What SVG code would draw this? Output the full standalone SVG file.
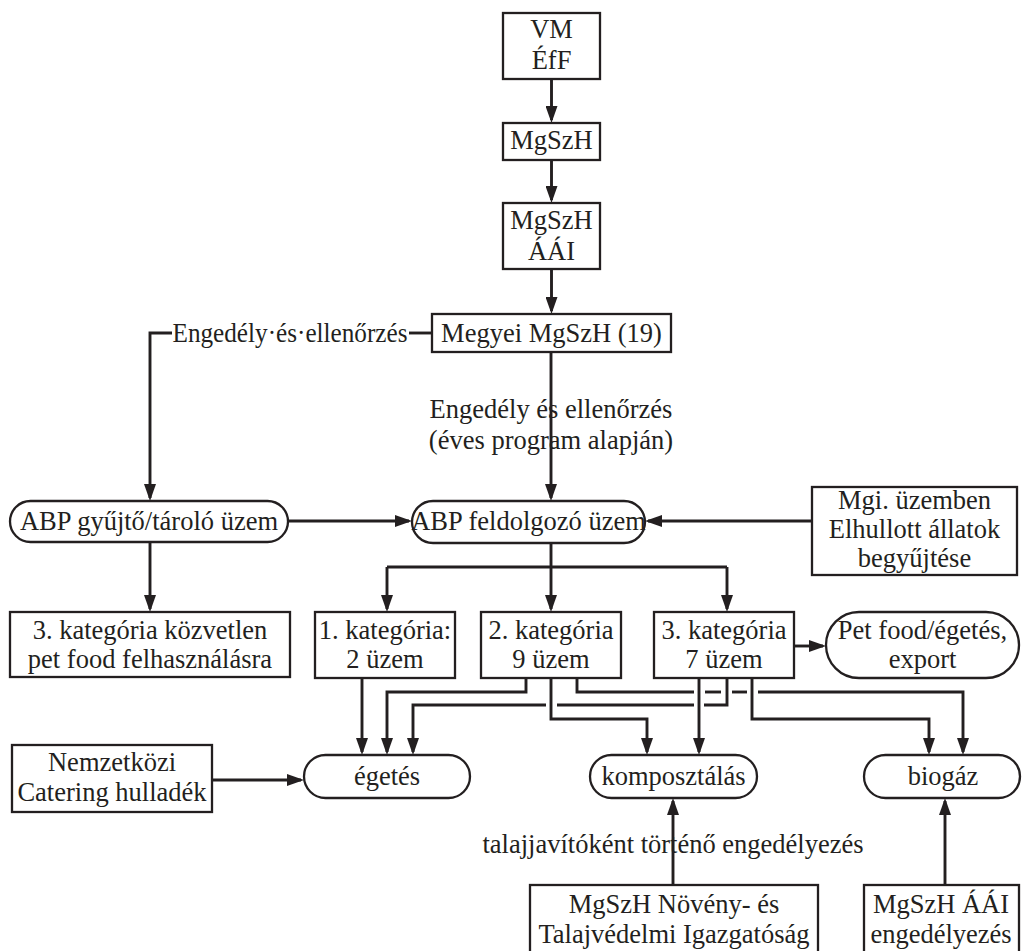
<svg xmlns="http://www.w3.org/2000/svg" width="1024" height="951" viewBox="0 0 1024 951">
<style>
  .box { fill: #ffffff; stroke: #231f20; stroke-width: 2.3; }
  .t { font-family: "Liberation Serif", "Times New Roman", serif; font-size: 26.5px; fill: #231f20; text-anchor: middle; }
  .c { fill: none; stroke: #231f20; stroke-width: 2.9; }
  .a { marker-end: url(#arr); }
</style>
<defs>
  <marker id="arr" markerUnits="userSpaceOnUse" viewBox="0 0 17 12" markerWidth="17" markerHeight="12" refX="14" refY="6" orient="auto">
    <path d="M0,0 L17,6 L0,12 z" fill="#231f20"/>
  </marker>
</defs>
<rect width="1024" height="951" fill="#ffffff"/>

<g id="connectors">
  <path class="c a" d="M551.5,79 V120"/>
  <path class="c a" d="M551.5,160 V200"/>
  <path class="c a" d="M551.5,269 V311"/>
  <path class="c" d="M432,333 H409"/>
  <path class="c a" d="M172,333 H150 V498"/>
  <path class="c a" d="M551,352 V498"/>
  <path class="c a" d="M288,521 H409"/>
  <path class="c a" d="M812,521 H648"/>
  <path class="c a" d="M150,542 V609"/>
  <path class="c a" d="M551,543 V609"/>
  <path class="c" d="M387,567 H727"/>
  <path class="c a" d="M387,567 V609"/>
  <path class="c a" d="M727,567 V609"/>
  <path class="c a" d="M794,646 H823"/>
  <path class="c a" d="M362,678 V752"/>
  <path class="c a" d="M526,678 V692 H387 V752"/>
  <path class="c" d="M727,678 V705 H704"/>
  <path class="c" d="M694,705 H557"/>
  <path class="c a" d="M546,705 H413 V752"/>
  <path class="c a" d="M551,678 V719 H647 V752"/>
  <path class="c a" d="M699,678 V752"/>
  <path class="c" d="M577,678 V692 H694"/>
  <path class="c" d="M705,692 H721"/>
  <path class="c" d="M732,692 H747"/>
  <path class="c a" d="M758,692 H963 V752"/>
  <path class="c a" d="M752,678 V719 H929 V752"/>
  <path class="c a" d="M212,780 H301"/>
  <path class="c a" d="M673,885 V801"/>
  <path class="c a" d="M945,885 V801"/>
</g>

<g id="lbl-left">
  <text class="t" x="290" y="342" textLength="235" lengthAdjust="spacingAndGlyphs">Engedély·és·ellenőrzés</text>
</g>
<g id="lbl-center">
  <text class="t" x="551" y="418">Engedély és ellenőrzés</text>
  <text class="t" x="551" y="449">(éves program alapján)</text>
</g>
<g id="lbl-bottom">
  <text class="t" x="673" y="853">talajjavítóként történő engedélyezés</text>
</g>

<g id="vm">
  <rect class="box" x="503" y="13" width="97" height="66"/>
  <text class="t" x="551.5" y="38">VM</text>
  <text class="t" x="551.5" y="69">ÉfF</text>
</g>
<g id="mgszh">
  <rect class="box" x="503" y="123" width="97" height="37"/>
  <text class="t" x="551.5" y="149">MgSzH</text>
</g>
<g id="mgszh-aai">
  <rect class="box" x="503" y="203" width="97" height="66"/>
  <text class="t" x="551.5" y="229">MgSzH</text>
  <text class="t" x="551.5" y="260">ÁÁI</text>
</g>
<g id="megyei">
  <rect class="box" x="432" y="314" width="239" height="38"/>
  <text class="t" x="551.5" y="342">Megyei MgSzH (19)</text>
</g>
<g id="abp-gyujto">
  <rect class="box" x="10" y="501" width="278" height="41" rx="20.5"/>
  <text class="t" x="149" y="530">ABP gyűjtő/tároló üzem</text>
</g>
<g id="abp-feldolgozo">
  <rect class="box" x="412" y="501" width="233" height="42" rx="21"/>
  <text class="t" x="528.5" y="530">ABP feldolgozó üzem</text>
</g>
<g id="mgi">
  <rect class="box" x="812" y="487" width="205" height="88"/>
  <text class="t" x="914.5" y="509">Mgi. üzemben</text>
  <text class="t" x="914.5" y="538">Elhullott állatok</text>
  <text class="t" x="914.5" y="567">begyűjtése</text>
</g>
<g id="kat3-kozvetlen">
  <rect class="box" x="10" y="612" width="280" height="65"/>
  <text class="t" x="150" y="639">3. kategória közvetlen</text>
  <text class="t" x="150" y="668">pet food felhasználásra</text>
</g>
<g id="kat1">
  <rect class="box" x="315" y="612" width="140" height="66"/>
  <text class="t" x="385" y="639">1. kategória:</text>
  <text class="t" x="385" y="668">2 üzem</text>
</g>
<g id="kat2">
  <rect class="box" x="481" y="612" width="140" height="66"/>
  <text class="t" x="551" y="639">2. kategória</text>
  <text class="t" x="551" y="668">9 üzem</text>
</g>
<g id="kat3">
  <rect class="box" x="654" y="612" width="140" height="66"/>
  <text class="t" x="724" y="639">3. kategória</text>
  <text class="t" x="724" y="668">7 üzem</text>
</g>
<g id="petfood">
  <rect class="box" x="826" y="612" width="193" height="66" rx="33"/>
  <text class="t" x="922.5" y="639">Pet food/égetés,</text>
  <text class="t" x="922.5" y="668">export</text>
</g>
<g id="nemzetkozi">
  <rect class="box" x="12" y="745" width="200" height="67"/>
  <text class="t" x="112" y="771">Nemzetközi</text>
  <text class="t" x="112" y="801">Catering hulladék</text>
</g>
<g id="egetes">
  <rect class="box" x="304" y="755" width="166" height="43" rx="21.5"/>
  <text class="t" x="387" y="785">égetés</text>
</g>
<g id="komposztalas">
  <rect class="box" x="590" y="755" width="167" height="43" rx="21.5"/>
  <text class="t" x="673.5" y="785">komposztálás</text>
</g>
<g id="biogaz">
  <rect class="box" x="864" y="755" width="156" height="43" rx="21.5"/>
  <text class="t" x="943" y="785">biogáz</text>
</g>
<g id="novenyvedelmi">
  <rect class="box" x="530" y="885" width="288" height="70"/>
  <text class="t" x="674" y="913">MgSzH Növény- és</text>
  <text class="t" x="674" y="943">Talajvédelmi Igazgatóság</text>
</g>
<g id="aai-engedely">
  <rect class="box" x="864" y="885" width="155" height="70"/>
  <text class="t" x="941" y="913">MgSzH ÁÁI</text>
  <text class="t" x="941" y="943">engedélyezés</text>
</g>
</svg>
